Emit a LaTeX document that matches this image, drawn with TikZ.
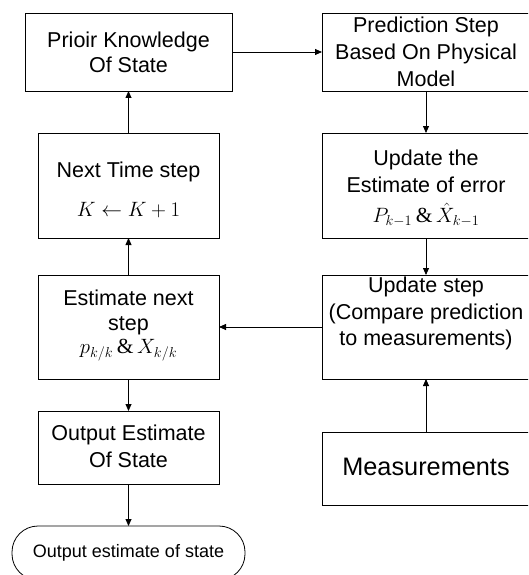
\documentclass[tikz,border=0pt]{standalone}
\usepackage{fontspec}
\setmainfont{Liberation Sans}
\newfontfamily\tms{Liberation Serif}
\usetikzlibrary{arrows.meta}
\begin{document}
\begin{tikzpicture}[x=1pt,y=-1pt,
  box/.style={draw, line width=0.8pt, inner sep=0pt, outer sep=0pt},
  lbl/.style={inner sep=0pt, align=center, font=\fontsize{21.5}{25}\selectfont},
  lblw/.style={inner sep=0pt, align=center, font=\fontsize{21.5}{27}\selectfont},
  frm/.style={inner sep=0pt, font=\fontsize{21.5}{25}\selectfont},
  arr/.style={-{Triangle[length=7pt,width=6pt]}, line width=0.8pt}]
\useasboundingbox (0,0) rectangle (528,575);
\clip (0,0) rectangle (528,575);
% boxes
\node[box, minimum width=207pt, minimum height=78pt] (prior) at (128.5,52) {};
\node[box, minimum width=208pt, minimum height=78pt] (pred) at (426,52) {};
\node[box, minimum width=181pt, minimum height=105pt] (next) at (128.5,185.5) {};
\node[box, minimum width=208pt, minimum height=105pt] (upest) at (426,185.5) {};
\node[box, minimum width=181pt, minimum height=104pt] (estn) at (128.5,327) {};
\node[box, minimum width=208pt, minimum height=104pt] (upd) at (426,327) {};
\node[box, minimum width=181pt, minimum height=73pt] (outb) at (128.5,447.5) {};
\node[box, minimum width=208pt, minimum height=73pt] (meas) at (426,468.5) {};
\node[box, rounded corners=26pt, minimum width=233pt, minimum height=54pt] (term) at (128.5,553) {};
% labels
\node[lbl] (tprior) at (128.5,52) {Prioir Knowledge\\Of State};
\node[lblw] (tpred) at (426,52) {Prediction Step\\Based On Physical\\Model};
\node[lbl] (tnext) at (128.5,172) {Next Time step};
\node[frm] (fnext) at (128.5,210) {$K \leftarrow K+1$};
\node[lblw] (tupest) at (426,171.5) {Update the\\Estimate of error};
\node[frm] (fupest) at (426,215) {$P_{k-1}$\,{\tms\&}\,$\hat{X}_{k-1}$};
\node[lbl] (testn) at (128.5,312.5) {Estimate next\\step};
\node[frm] (festn) at (128.5,350) {$p_{k/k}$\,{\tms\&}\,$X_{k/k}$};
\node[inner sep=0pt, align=center, font=\fontsize{21.5}{26.5}\selectfont] (tupd) at (426,313.5) {Update step\\(Compare prediction\\to measurements)};
\node[lblw] (toutb) at (128.5,446.5) {Output Estimate\\Of State};
\node[inner sep=0pt, font=\fontsize{25.3}{30}\selectfont] (tmeas) at (426,467) {Measurements};
\node[inner sep=0pt, font=\fontsize{18}{22}\selectfont] (tterm) at (128.5,553) {Output estimate of state};
% connectors
\draw[arr] (prior.east) -- (pred.west);
\draw[arr] (pred.south) -- (upest.north);
\draw[arr] (upest.south) -- (upd.north);
\draw[arr] (upd.west) -- (estn.east);
\draw[arr] (meas.north) -- (upd.south);
\draw[arr] (estn.north) -- (next.south);
\draw[arr] (next.north) -- (prior.south);
\draw[arr] (estn.south) -- (outb.north);
\draw[arr] (outb.south) -- (term.north);
\end{tikzpicture}
\end{document}
